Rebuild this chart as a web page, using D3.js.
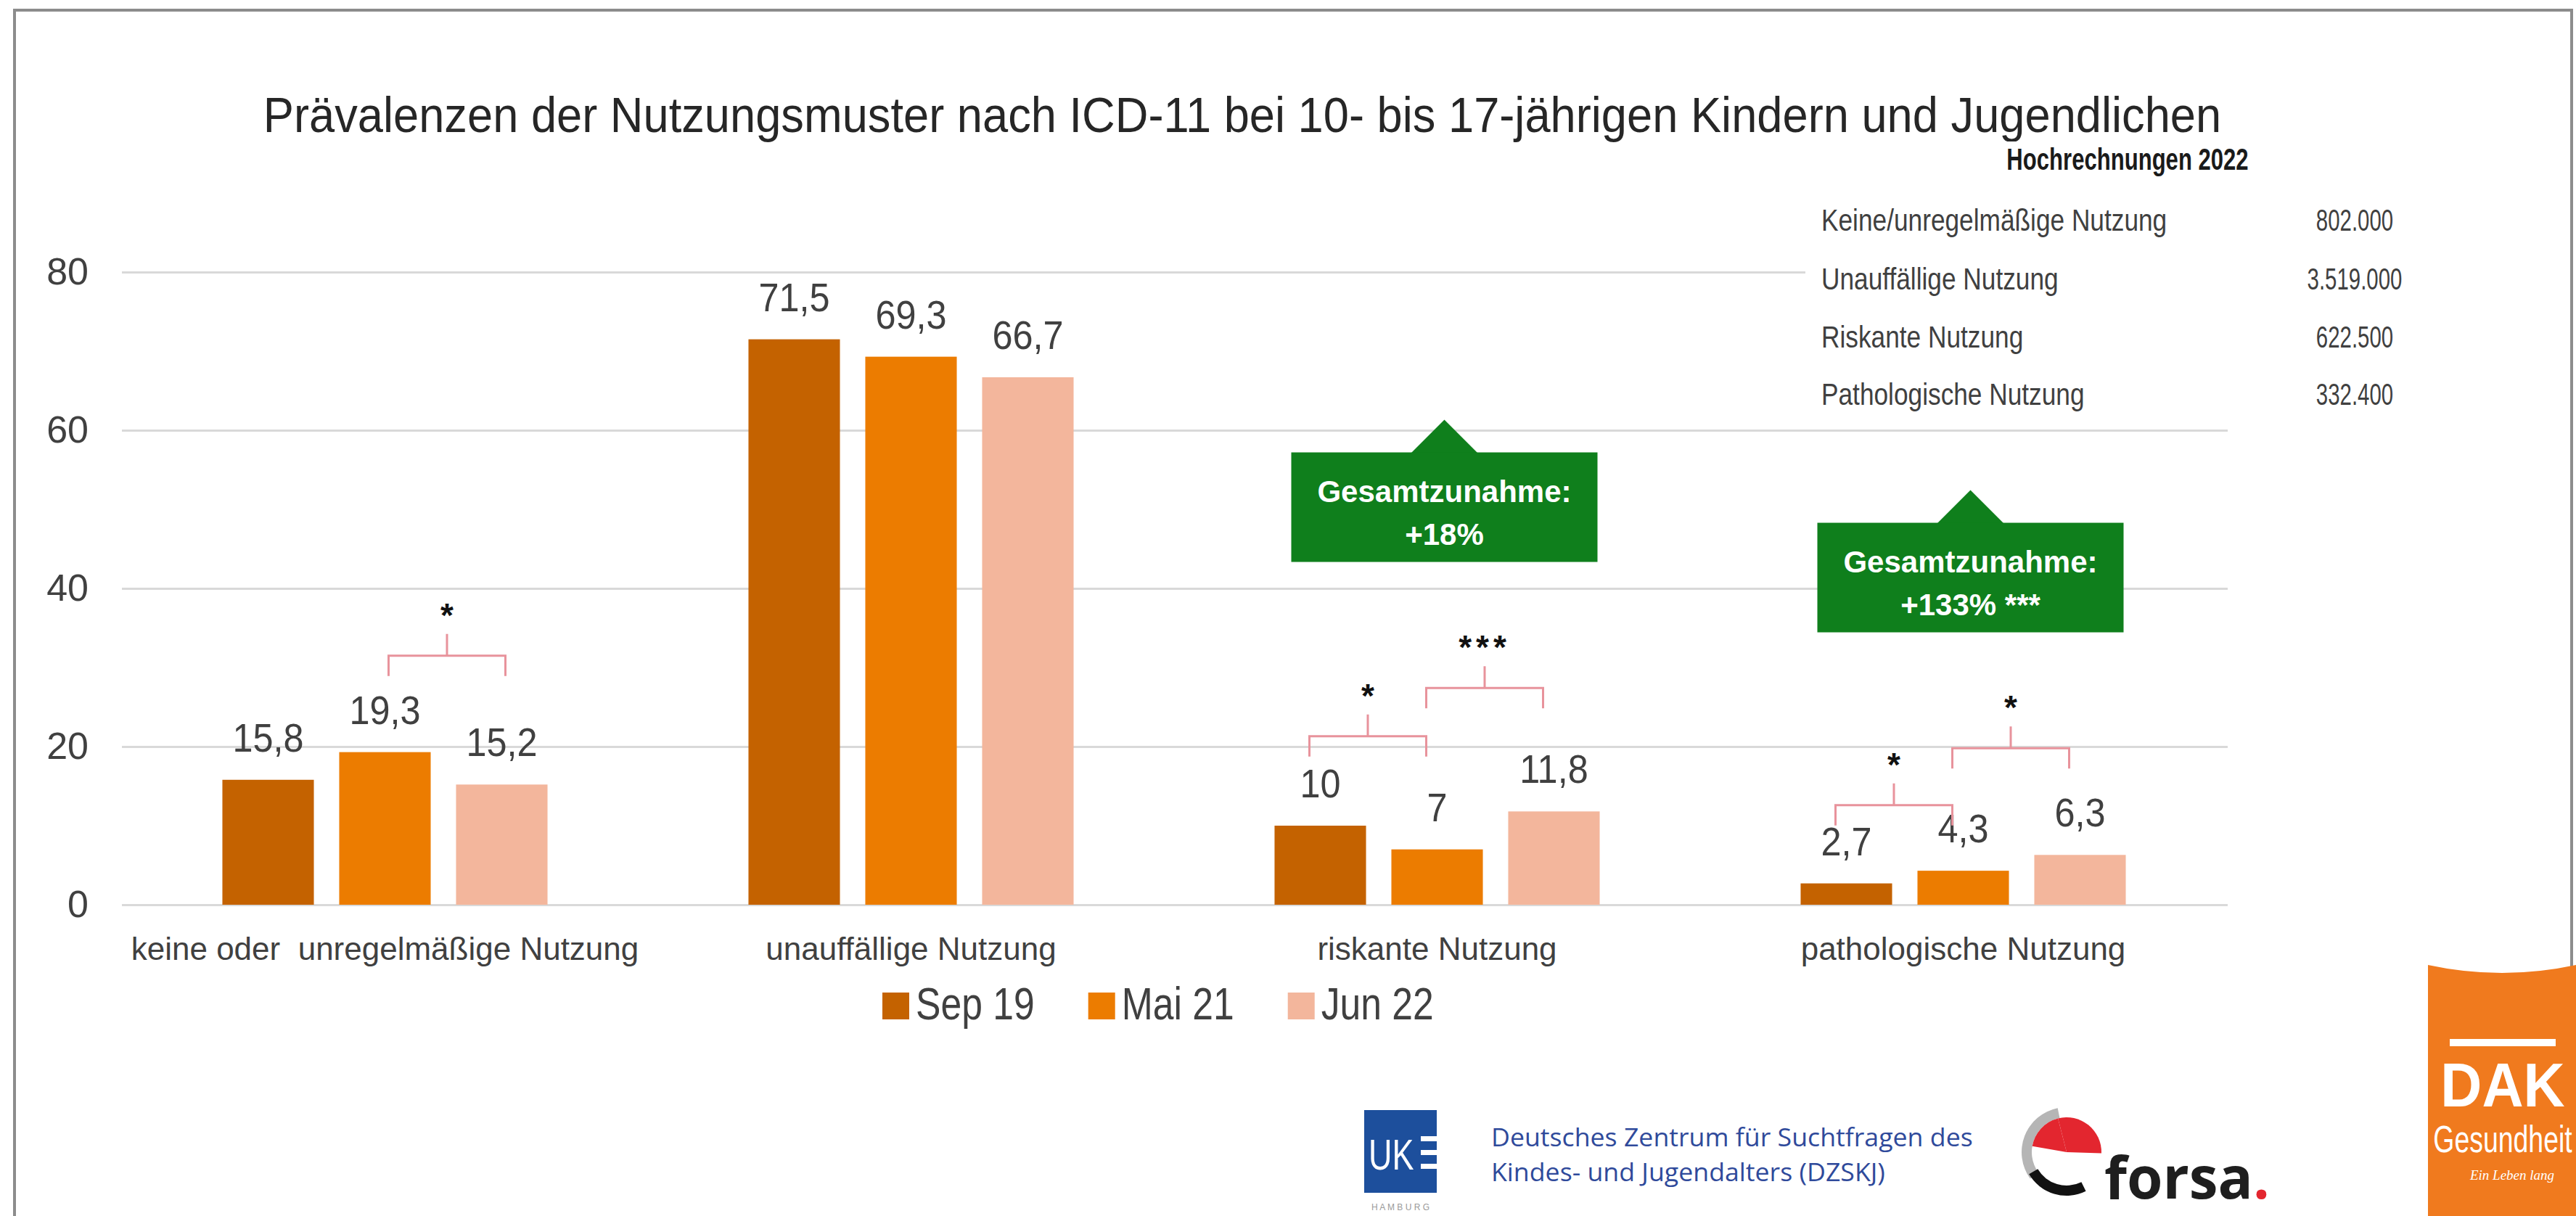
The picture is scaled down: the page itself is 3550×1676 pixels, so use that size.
<!DOCTYPE html>
<html>
<head>
<meta charset="utf-8">
<script src="https://cdn.jsdelivr.net/npm/d3@7"></script>
<style>
body { margin: 0; background: #fff; }
svg { display: block; }
</style>
</head>
<body>
<svg id="chart"></svg>
<script>
var categories = ["keine oder  unregelmäßige Nutzung", "unauffällige Nutzung", "riskante Nutzung", "pathologische Nutzung"];
var series = ["Sep 19", "Mai 21", "Jun 22"];
var sep19 = [15.8, 71.5, 10, 2.7];
var mai21 = [19.3, 69.3, 7, 4.3];
var jun22 = [15.2, 66.7, 11.8, 6.3];
var yTicks = [0, 20, 40, 60, 80];

// significance brackets: category, bar pair, height in %, stars
var brackets = [
  {cat: 0, from: 1, to: 2, level: 31.5, stars: "*"},
  {cat: 2, from: 0, to: 1, level: 21.3, stars: "*"},
  {cat: 2, from: 1, to: 2, level: 27.4, stars: "***"},
  {cat: 3, from: 0, to: 1, level: 12.6, stars: "*"},
  {cat: 3, from: 1, to: 2, level: 19.8, stars: "*"}
];
var increases = [
  {cat: 2, top: 57.2, lines: ["Gesamtzunahme:", "+18%"]},
  {cat: 3, top: 48.3, lines: ["Gesamtzunahme:", "+133% ***"]}
];

var projTitle = "Hochrechnungen 2022";
var projLabels = ["Keine/unregelmäßige Nutzung", "Unauffällige Nutzung", "Riskante Nutzung", "Pathologische Nutzung"];
var projValues = ["802.000", "3.519.000", "622.500", "332.400"];

var colors = ["#c46200", "#ec7c00", "#f3b69c"];
var SANS = "'Liberation Sans', Arial, sans-serif";

var W = 3550, H = 1676;
var svg = d3.select("#chart").attr("width", W).attr("height", H);

var table = series.map(function (s, i) { return [sep19, mai21, jun22][i]; });

svg.append("rect").attr("width", W).attr("height", H).attr("fill", "#fff");
// frame
svg.append("rect")
  .attr("x", 20).attr("y", 14).attr("width", 3524).attr("height", 1700)
  .attr("fill", "none").attr("stroke", "#8c8c8c").attr("stroke-width", 4);

function addText(sel, x, y, str, o) {
  return sel.append("text")
    .attr("transform", "translate(" + x + "," + y + ") scale(" + (o.sx || 1) + ",1)")
    .attr("font-family", o.family || SANS)
    .attr("font-size", o.size)
    .attr("font-weight", o.weight || "normal")
    .attr("font-style", o.style || "normal")
    .attr("fill", o.fill || "#404040")
    .attr("text-anchor", o.anchor || "start")
    .text(str);
}

// title
addText(svg, 1712, 182, "Prävalenzen der Nutzungsmuster nach ICD-11 bei 10- bis 17-jährigen Kindern und Jugendlichen",
  {size: 68, sx: 0.93, anchor: "middle", fill: "#262626"});

// scales
var x0 = d3.scaleBand().domain(categories).range([168, 3068]);
var x1 = d3.scaleBand().domain(series).range([0, x0.bandwidth()]).paddingInner(0.217).paddingOuter(0.86);
var y = d3.scaleLinear().domain([0, 80]).range([1247, 375]);

function barCenter(c, s) { return x0(categories[c]) + x1(series[s]) + x1.bandwidth() / 2; }

// grid + y labels
var yAxis = svg.append("g")
  .attr("transform", "translate(168,0)")
  .call(d3.axisLeft(y).tickValues(yTicks).tickSize(-(3070 - 168)).tickPadding(46));
yAxis.select(".domain").remove();
yAxis.selectAll(".tick line").attr("stroke", "#d9d9d9").attr("stroke-width", 3);
yAxis.selectAll(".tick text")
  .attr("font-family", SANS).attr("font-size", 52).attr("fill", "#404040");

// table of projections sits on a white card over the grid
var card = svg.append("g");
card.append("rect").attr("x", 2488).attr("y", 195).attr("width", 1000).attr("height", 380).attr("fill", "#fff");
addText(card, 2932, 234, projTitle, {size: 42, sx: 0.74, weight: "bold", anchor: "middle", fill: "#1a1a1a"});
var rowY = [318, 399, 479, 558];
projLabels.forEach(function (l, i) {
  addText(card, 2510, rowY[i], l, {size: 43, sx: 0.82, fill: "#404040"});
  addText(card, 3245, rowY[i], projValues[i], {size: 42, sx: 0.7, anchor: "middle", fill: "#404040"});
});

// bars
var groups = svg.selectAll("g.cat")
  .data(categories)
  .enter().append("g")
  .attr("class", "cat")
  .attr("transform", function (d) { return "translate(" + x0(d) + ",0)"; });

groups.selectAll("rect")
  .data(function (d, ci) { return series.map(function (s, si) { return {s: s, si: si, v: table[si][ci]}; }); })
  .enter().append("rect")
  .attr("x", function (d) { return x1(d.s); })
  .attr("y", function (d) { return y(d.v); })
  .attr("width", x1.bandwidth())
  .attr("height", function (d) { return y(0) - y(d.v); })
  .attr("fill", function (d) { return colors[d.si]; });

groups.selectAll("text.val")
  .data(function (d, ci) { return series.map(function (s, si) { return {s: s, si: si, v: table[si][ci]}; }); })
  .enter().append("text")
  .attr("class", "val")
  .attr("transform", function (d) {
    return "translate(" + (x1(d.s) + x1.bandwidth() / 2) + "," + (y(d.v) - 39) + ") scale(0.9,1)";
  })
  .attr("text-anchor", "middle")
  .attr("font-family", SANS).attr("font-size", 56).attr("fill", "#404040")
  .text(function (d) { return String(d.v).replace(".", ","); });

// category labels
groups.append("text")
  .attr("x", x0.bandwidth() / 2)
  .attr("y", 1323)
  .attr("text-anchor", "middle")
  .attr("font-family", SANS).attr("font-size", 44).attr("fill", "#404040")
  .style("white-space", "pre")
  .text(function (d) { return d; });

// significance brackets
brackets.forEach(function (b) {
  var shift = b.cat === 0 ? 5 : -15;
  var xa = barCenter(b.cat, b.from) + shift, xb = barCenter(b.cat, b.to) + shift;
  var yy = y(b.level), xm = (xa + xb) / 2;
  svg.append("path")
    .attr("d", "M" + xa + "," + (yy + 28) + "V" + yy + "H" + xb + "V" + (yy + 28) + "M" + xm + "," + yy + "V" + (yy - 30))
    .attr("fill", "none").attr("stroke", "#e8939c").attr("stroke-width", 3);
  addText(svg, xm, yy - 40, b.stars, {size: 46, weight: "bold", anchor: "middle", fill: "#111"})
    .attr("letter-spacing", b.stars.length > 1 ? 6 : 0);
});

// green callouts
increases.forEach(function (c) {
  var cx = x0(categories[c.cat]) + x0.bandwidth() / 2 + 10;
  var top = y(c.top), w = 422, h = 151;
  var g = svg.append("g");
  g.append("path")
    .attr("d", "M" + (cx - 46) + "," + (top + 1) + "L" + cx + "," + (top - 45) + "L" + (cx + 46) + "," + (top + 1) + "Z")
    .attr("fill", "#0f7f1c");
  g.append("rect").attr("x", cx - w / 2).attr("y", top).attr("width", w).attr("height", h).attr("fill", "#0f7f1c");
  addText(g, cx, top + 68, c.lines[0], {size: 42, weight: "bold", anchor: "middle", fill: "#fff"});
  addText(g, cx, top + 127, c.lines[1], {size: 42, weight: "bold", anchor: "middle", fill: "#fff"});
});

// legend
var legend = svg.append("g");
var lx = 1216;
series.forEach(function (s, i) {
  legend.append("rect").attr("x", lx).attr("y", 1368).attr("width", 37).attr("height", 37).attr("fill", colors[i]);
  var t = addText(legend, lx + 46, 1405, s, {size: 63, sx: 0.82, fill: "#404040"});
  lx += 46 + t.node().getComputedTextLength() * 0.82 + 74;
});

// logos (drawn roughly)
var logos = svg.append("g");
logos.append("rect").attr("x", 1880).attr("y", 1530).attr("width", 100).attr("height", 114).attr("fill", "#1d4f9c");
addText(logos, 1886, 1612, "UK", {size: 60, sx: 0.75, fill: "#fff"});
[1566, 1585, 1604].forEach(function (yy) {
  logos.append("rect").attr("x", 1958).attr("y", yy).attr("width", 26).attr("height", 7).attr("fill", "#fff");
});
addText(logos, 1930, 1668, "H A M B U R G", {size: 12, anchor: "middle", fill: "#9a9a9a"});
addText(logos, 2055, 1580, "Deutsches Zentrum für Suchtfragen des", {size: 34, sx: 1.05, family: "'Open Sans', sans-serif", fill: "#2f4a9b"});
addText(logos, 2055, 1628, "Kindes- und Jugendalters (DZSKJ)", {size: 34, sx: 1.05, family: "'Open Sans', sans-serif", fill: "#2f4a9b"});

var fc = [2848, 1588];
var arc = d3.arc();
logos.append("path").attr("transform", "translate(" + fc + ")")
  .attr("d", arc({innerRadius: 48, outerRadius: 62, startAngle: -2.2, endAngle: -0.2})).attr("fill", "#b5b5b5");
logos.append("path").attr("transform", "translate(" + fc + ")")
  .attr("d", arc({innerRadius: 0, outerRadius: 48, startAngle: -0.25, endAngle: 1.6})).attr("fill", "#e3262f");
logos.append("path").attr("transform", "translate(" + fc + ")")
  .attr("d", arc({innerRadius: 0, outerRadius: 48, startAngle: -1.4, endAngle: -0.25})).attr("fill", "#e3262f");
logos.append("path").attr("transform", "translate(" + fc + ")")
  .attr("d", arc({innerRadius: 46, outerRadius: 60, startAngle: -3.6, endAngle: -2.1})).attr("fill", "#111");
var forsa = addText(logos, 2900, 1652, "forsa", {size: 80, weight: "bold", fill: "#1e1e1e", family: "'Open Sans', sans-serif"});
forsa.append("tspan").attr("fill", "#e3262f").text(".");

logos.append("path")
  .attr("d", "M3346,1330Q3448,1352 3550,1330V1676H3346Z")
  .attr("fill", "#f07a1e");
logos.append("rect").attr("x", 3376).attr("y", 1432).attr("width", 146).attr("height", 10).attr("fill", "#fff");
addText(logos, 3449, 1525, "DAK", {size: 86, sx: 0.92, weight: "bold", anchor: "middle", fill: "#fff"});
addText(logos, 3449, 1588, "Gesundheit", {size: 52, sx: 0.72, anchor: "middle", fill: "#fff"});
addText(logos, 3462, 1626, "Ein Leben lang", {size: 19, style: "italic", anchor: "middle", fill: "#fff", family: "'Liberation Serif', serif"});
</script>
</body>
</html>
